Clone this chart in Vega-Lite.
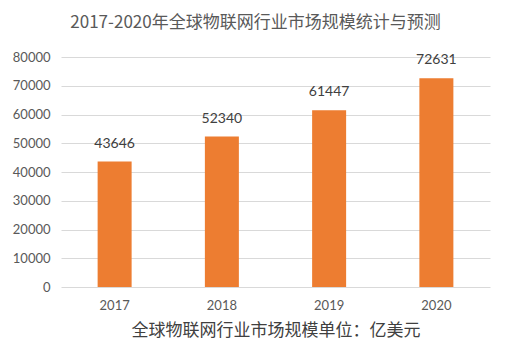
{
  "$schema": "https://vega.github.io/schema/vega-lite/v6.json",
  "width": 429,
  "height": 230,
  "autosize": {"type": "none"},
  "padding": {"left": 61, "top": 57, "right": 20, "bottom": 76},
  "background": "white",
  "title": {
    "text": "2017-2020年全球物联网行业市场规模统计与预测",
    "font": "Noto Sans CJK SC",
    "fontSize": 17,
    "fontWeight": "normal",
    "color": "#595959",
    "anchor": "middle",
    "offset": 19,
    "dx": -20
  },
  "data": {
    "values": [
      {"year": "2017", "value": 43646},
      {"year": "2018", "value": 52340},
      {"year": "2019", "value": 61447},
      {"year": "2020", "value": 72631}
    ]
  },
  "encoding": {
    "x": {
      "field": "year",
      "type": "nominal",
      "title": "全球物联网行业市场规模单位：亿美元",
      "axis": {
        "labelAngle": 0,
        "labelFont": "Lato",
        "labelFontSize": 13,
        "labelColor": "#595959",
        "labelPadding": 12,
        "domain": false,
        "ticks": false,
        "titleFont": "Noto Sans CJK SC",
        "titleFontSize": 17,
        "titleFontWeight": "normal",
        "titleColor": "#404040",
        "titlePadding": 10
      },
      "scale": {"paddingInner": 0.68, "paddingOuter": 0.34}
    },
    "y": {
      "field": "value",
      "type": "quantitative",
      "title": null,
      "scale": {"domain": [0, 80000]},
      "axis": {
        "values": [0, 10000, 20000, 30000, 40000, 50000, 60000, 70000, 80000],
        "format": "d",
        "labelFont": "Lato",
        "labelFontSize": 13,
        "labelColor": "#595959",
        "labelPadding": 11,
        "domain": false,
        "ticks": false,
        "gridColor": "#d9d9d9",
        "gridWidth": 1
      }
    }
  },
  "layer": [
    {"mark": {"type": "bar", "color": "#ed7d31", "size": 34}},
    {
      "mark": {"type": "text", "dy": -11, "baseline": "bottom", "font": "Lato", "fontSize": 14, "color": "#404040"},
      "encoding": {"text": {"field": "value", "type": "quantitative", "format": "d"}}
    }
  ],
  "config": {"view": {"stroke": null}}
}
